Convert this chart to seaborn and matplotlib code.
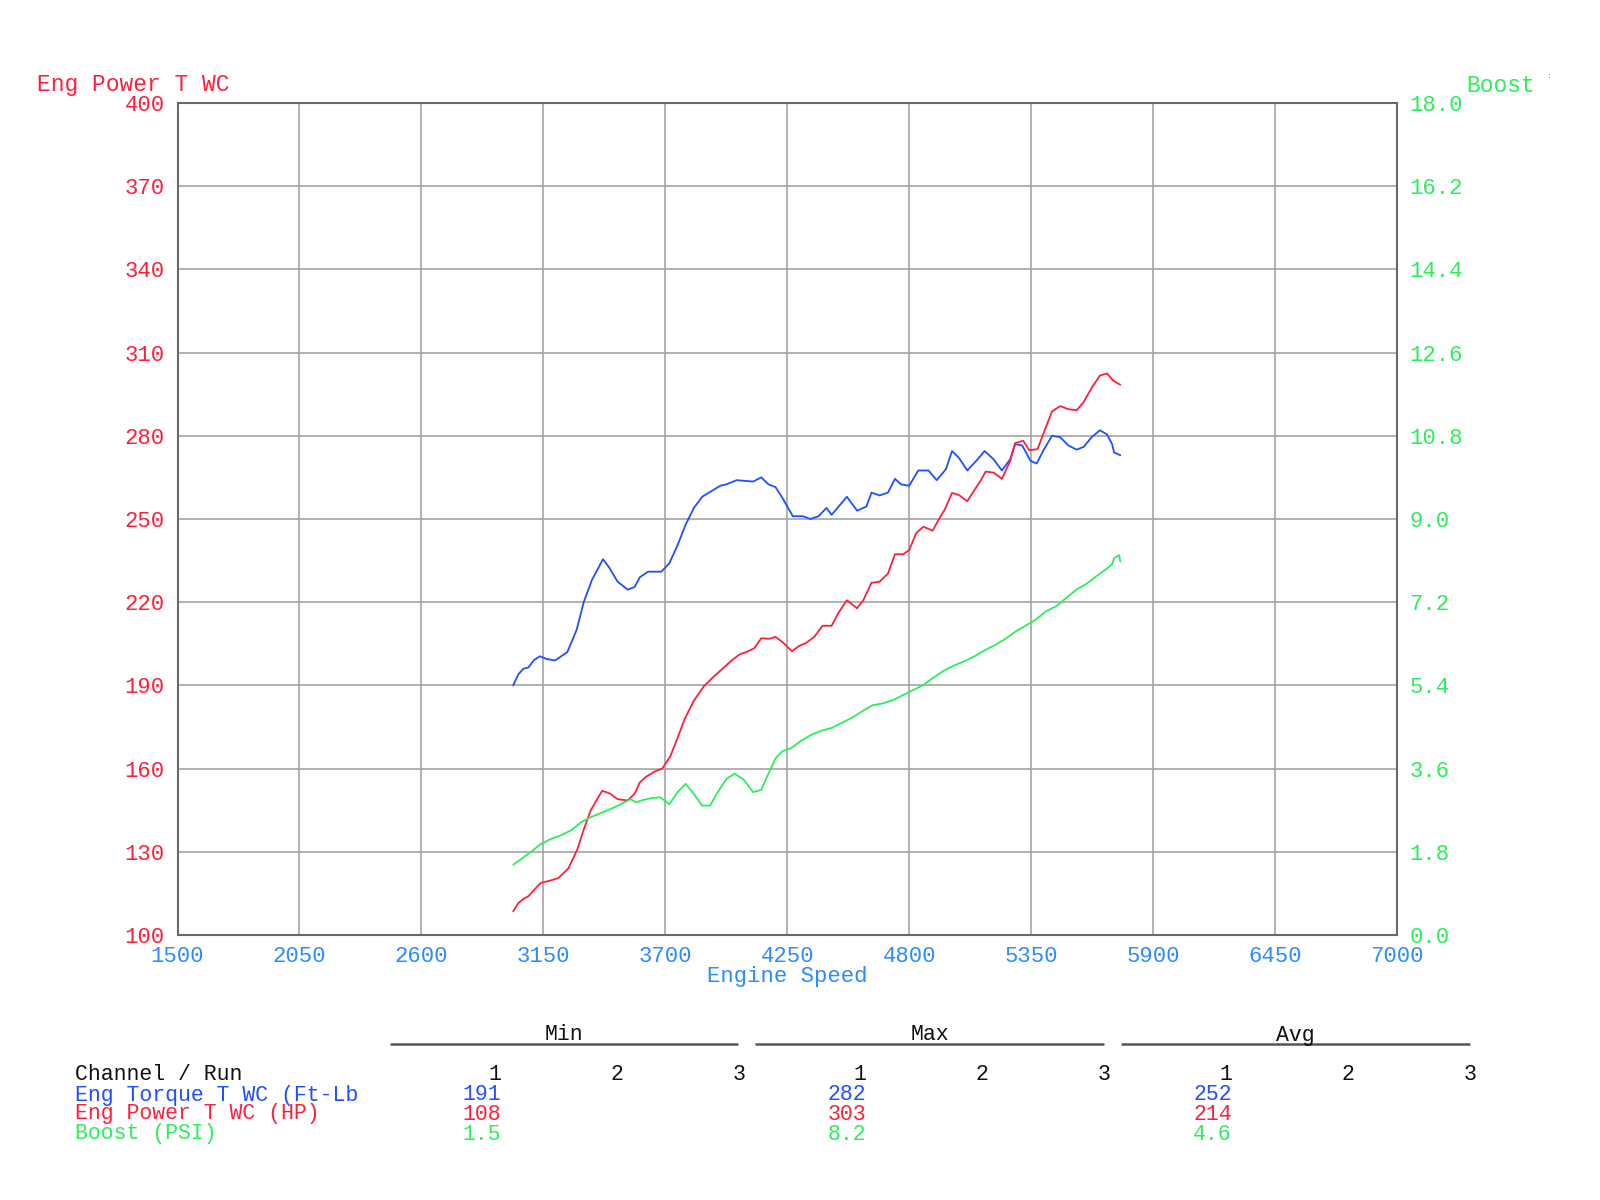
import matplotlib
matplotlib.use('Agg')

import numpy as np
import pandas as pd
import matplotlib.pyplot as plt
import seaborn as sns

# torque (blue)
torque_rpm = [3014, 3037, 3060, 3083, 3106, 3134, 3166, 3203, 3258, 3300, 3332, 3369, 3419, 3447,
              3484, 3530, 3562, 3585, 3622, 3682, 3718, 3755, 3792, 3829, 3866, 3907, 3948, 3976,
              4022, 4096, 4133, 4165, 4197, 4229, 4275, 4321, 4354, 4391, 4427, 4450, 4487, 4519,
              4565, 4607, 4630, 4667, 4704, 4736, 4763, 4800, 4841, 4887, 4924, 4966, 4993, 5025,
              5062, 5103, 5140, 5181, 5218, 5255, 5278, 5310, 5347, 5375, 5407, 5444, 5481, 5518,
              5555, 5587, 5623, 5660, 5692, 5715, 5724, 5752]
torque = [190, 194, 196, 196.5, 199, 200.5, 199.5, 199, 202, 210, 220, 228, 235.5, 232.5,
          227.5, 224.5, 225.5, 229, 231, 231, 234, 240.5, 248, 254, 258, 260, 262, 262.5,
          264, 263.5, 265, 262.5, 261.5, 257.5, 251, 251, 250, 251, 254, 251.5, 255, 258,
          253, 254.5, 259.5, 258.5, 259.5, 264.5, 262.5, 262, 267.5, 267.5, 264, 268, 274.5, 272,
          267.5, 271, 274.5, 271.5, 267.5, 271.5, 277, 276.5, 271, 270, 275, 280, 279.5, 276.5,
          275, 276, 279.5, 282, 280.5, 277, 274, 273]

# power (red)
power_rpm = [3014, 3037, 3060, 3083, 3111, 3139, 3175, 3217, 3263, 3304, 3332, 3364, 3415, 3451,
             3484, 3530, 3562, 3585, 3612, 3654, 3686, 3723, 3755, 3788, 3829, 3875, 3916, 3958,
             3999, 4036, 4073, 4101, 4133, 4170, 4197, 4229, 4271, 4303, 4335, 4372, 4409, 4450,
             4482, 4519, 4565, 4593, 4630, 4667, 4704, 4736, 4773, 4800, 4832, 4864, 4906, 4933,
             4961, 4993, 5025, 5062, 5094, 5122, 5145, 5181, 5218, 5255, 5278, 5314, 5342, 5379,
             5412, 5444, 5481, 5518, 5555, 5587, 5623, 5660, 5692, 5720, 5752]
power = [108.5, 111.5, 113, 114, 116.5, 118.8, 119.5, 120.5, 124, 131, 138, 145, 152, 151,
         149, 148.5, 151, 155, 157, 159, 160, 164.5, 171, 178, 184.5, 189.8, 193, 196,
         199, 201.2, 202.3, 203.4, 207, 206.8, 207.5, 205.6, 202.3, 204.2, 205.3, 207.5, 211.5, 211.5,
         216.3, 220.7, 217.8, 220.7, 227, 227.4, 230.3, 237.3, 237.3, 238.8, 245, 247.2, 245.8, 249.8,
         253.5, 259.4, 258.6, 256.4, 260.4, 263.8, 267.1, 266.7, 264.5, 270.8, 277.4, 278.2, 274.8, 275.2,
         282.2, 288.8, 290.7, 289.6, 289.2, 292.2, 297.3, 301.7, 302.5, 299.9, 298.4]

# boost (green, right axis)
boost_rpm = [3014, 3046, 3092, 3139, 3185, 3231, 3277, 3323, 3369, 3415, 3461, 3507, 3544, 3567,
             3599, 3636, 3677, 3718, 3755, 3792, 3829, 3866, 3902, 3939, 3976, 4013, 4054, 4096,
             4133, 4165, 4197, 4229, 4266, 4312, 4358, 4404, 4450, 4496, 4542, 4588, 4634, 4680,
             4726, 4772, 4818, 4864, 4910, 4956, 5002, 5048, 5094, 5140, 5186, 5232, 5278, 5324,
             5370, 5416, 5462, 5508, 5554, 5600, 5646, 5692, 5715, 5724, 5747, 5752]
boost = [1.52, 1.63, 1.79, 1.97, 2.08, 2.16, 2.27, 2.45, 2.56, 2.65, 2.74, 2.85, 2.94, 2.87,
         2.92, 2.96, 2.98, 2.83, 3.09, 3.27, 3.05, 2.80, 2.80, 3.11, 3.38, 3.49, 3.36, 3.09,
         3.14, 3.49, 3.82, 3.98, 4.04, 4.20, 4.33, 4.42, 4.48, 4.59, 4.70, 4.84, 4.97, 5.01,
         5.08, 5.19, 5.30, 5.41, 5.57, 5.72, 5.83, 5.92, 6.03, 6.16, 6.27, 6.40, 6.56, 6.69,
         6.82, 7.00, 7.11, 7.29, 7.47, 7.60, 7.77, 7.93, 8.02, 8.15, 8.22, 8.08]

x_ticks = [1500, 2050, 2600, 3150, 3700, 4250, 4800, 5350, 5900, 6450, 7000]
left_ticks = [100, 130, 160, 190, 220, 250, 280, 310, 340, 370, 400]
right_ticks = [0.0, 1.8, 3.6, 5.4, 7.2, 9.0, 10.8, 12.6, 14.4, 16.2, 18.0]

channels = ['Eng Torque T WC (Ft-Lb', 'Eng Power T WC (HP)', 'Boost (PSI)']
ch_min = ['191', '108', '1.5']
ch_max = ['282', '303', '8.2']
ch_avg = ['252', '214', '4.6']

RED = '#ff1f3d'
BLUE = '#1f4fff'
GREEN = '#2bef5a'
XBLUE = '#2a8cff'
GRID = '#a4a4a4'

sns.set_style('white')
plt.rcParams['font.family'] = ['Liberation Mono', 'DejaVu Sans Mono']

W, H = 1600, 1200
fig = plt.figure(figsize=(16, 12), dpi=100)
ax = fig.add_axes([177.5 / W, 1 - 935 / H, (1397 - 177.5) / W, (935 - 103) / H])
ax2 = ax.twinx()

tq = pd.DataFrame({'rpm': torque_rpm, 'val': torque})
pw = pd.DataFrame({'rpm': power_rpm, 'val': power})
bs = pd.DataFrame({'rpm': boost_rpm, 'val': boost})

sns.lineplot(data=tq, x='rpm', y='val', ax=ax, color=BLUE, lw=1.3, estimator=None, sort=False)
sns.lineplot(data=pw, x='rpm', y='val', ax=ax, color=RED, lw=1.3, estimator=None, sort=False)
sns.lineplot(data=bs, x='rpm', y='val', ax=ax2, color=GREEN, lw=1.3, estimator=None, sort=False)

ax.set_xlim(1500, 7000)
ax.set_ylim(100, 400)
ax2.set_ylim(0, 18)
ax.set_xticks(x_ticks)
ax.set_yticks(left_ticks)
ax2.set_yticks(right_ticks)
ax.set_xticklabels([str(t) for t in x_ticks], color=XBLUE, fontsize=16)
ax.set_yticklabels([str(t) for t in left_ticks], color=RED, fontsize=16)
ax2.set_yticklabels(['%.1f' % t for t in right_ticks], color=GREEN, fontsize=16)
ax.tick_params(axis='x', length=0, pad=8)
ax.tick_params(axis='y', length=0, pad=9)
ax2.tick_params(axis='y', length=0, pad=9)

ax.grid(True, color=GRID, lw=1.2)
ax.set_axisbelow(True)
ax.set_xlabel('Engine Speed', color=XBLUE, fontsize=16, labelpad=-1)
ax.set_ylabel('')
ax2.set_ylabel('')
for sp in ax.spines.values():
    sp.set_color('#6a6a6a')
    sp.set_linewidth(1.5)
for sp in ax2.spines.values():
    sp.set_visible(False)


def fx(x):
    return x / W


def fy(y):
    return 1 - y / H


fig.text(fx(37), fy(85), 'Eng Power T WC', color=RED, fontsize=16.5, ha='left', va='center')
fig.text(fx(1535), fy(85), 'Boost', color=GREEN, fontsize=16.5, ha='right', va='center')
fig.text(fx(1547), fy(77), ':', color='#999999', fontsize=6, ha='left', va='center')

# stats table below the chart
fs = 15.5
groups = [('Min', 391, 737, ch_min), ('Max', 756, 1103, ch_max), ('Avg', 1122, 1469, ch_avg)]
row_y = [1095, 1114, 1134]
colors = [BLUE, RED, GREEN]
fig.text(fx(75), fy(1074), 'Channel / Run', color='#111111', fontsize=fs, ha='left', va='center')
for name, x0, x1, vals in groups:
    fig.text(fx((x0 + x1) / 2), fy(1035), name, color='#111111', fontsize=fs, ha='center', va='center')
    fig.add_artist(plt.Line2D([fx(x0), fx(x1)], [fy(1044), fy(1044)], transform=fig.transFigure,
                              color='#555555', lw=1.8))
    for i, run in enumerate(['1', '2', '3']):
        fig.text(fx(x0 + 110 + 122 * i), fy(1074), run, color='#111111', fontsize=fs, ha='right', va='center')
    for j, v in enumerate(vals):
        fig.text(fx(x0 + 110), fy(row_y[j]), v, color=colors[j], fontsize=fs, ha='right', va='center')

for j, c in enumerate(channels):
    fig.text(fx(75), fy(row_y[j]), c, color=colors[j], fontsize=fs, ha='left', va='center')

fig.savefig('out.png', dpi=100)
